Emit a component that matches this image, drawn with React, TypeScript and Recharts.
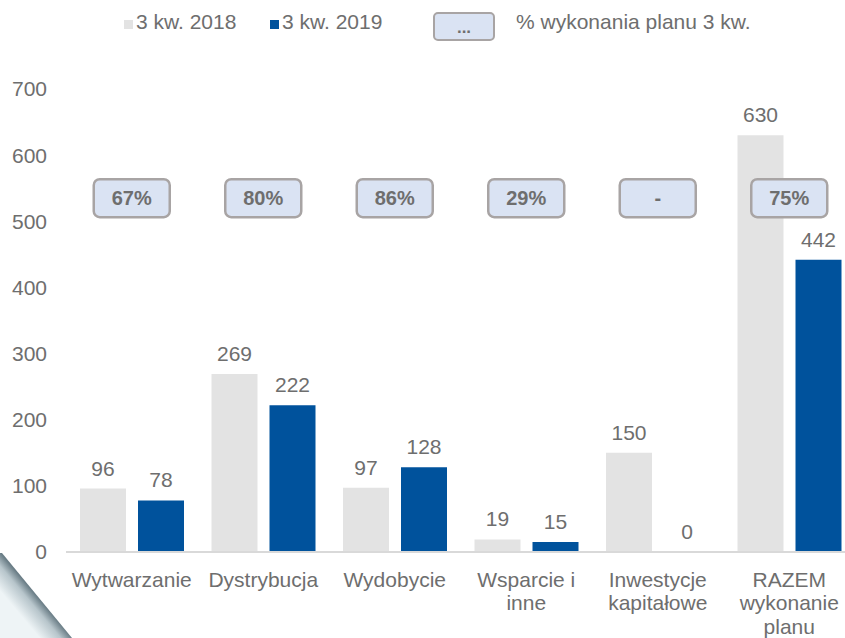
import React from "react";
import { BarChart, Bar, XAxis, YAxis, LabelList, ReferenceDot } from "recharts";

const CATEGORIES = [
  "Wytwarzanie",
  "Dystrybucja",
  "Wydobycie",
  "Wsparcie i\ninne",
  "Inwestycje\nkapitałowe",
  "RAZEM\nwykonanie\nplanu",
];
const Q3_2018 = [96, 269, 97, 19, 150, 630];
const Q3_2019 = [78, 222, 128, 15, 0, 442];
const PLAN_PCT = ["67%", "80%", "86%", "29%", "-", "75%"];
const PCT_LEVEL = 535;
const Y_TICKS = [0, 100, 200, 300, 400, 500, 600, 700];

const data = CATEGORIES.map((name, i) => ({ name, y2018: Q3_2018[i], y2019: Q3_2019[i] }));

const FONT = "'Liberation Sans', Arial, sans-serif";
const TEXT = "#6e6e6e";
const GRAY = "#e3e3e3";
const BLUE = "#00529c";
const BOX_FILL = "#dae3f3";
const BOX_STROKE = "#a8a4a4";

// zero-valued bars still need a rectangle so their label is drawn
const tinyForZero = (v: number) => (v === 0 ? 0.01 : 0);

function CategoryTick({ x, y, payload }: any) {
  const lines = String(payload.value).split("\n");
  return (
    <text x={x} y={y} textAnchor="middle" fill={TEXT} fontSize={21} fontFamily={FONT}>
      {lines.map((l, i) => (
        <tspan key={i} x={x} dy={i === 0 ? "0.71em" : 23.5}>
          {l}
        </tspan>
      ))}
    </text>
  );
}

function PctBox({ cx, cy, text }: any) {
  return (
    <g>
      <rect x={cx - 38} y={cy - 19} width={76} height={38} rx={6} fill={BOX_FILL} stroke={BOX_STROKE} strokeWidth={2.5} />
      <text x={cx} y={cy} dy="0.36em" textAnchor="middle" fill={TEXT} fontSize={20} fontWeight="bold" fontFamily={FONT}>
        {text}
      </text>
    </g>
  );
}

function LegendBar() {
  const item = { position: "absolute" as const, top: 9, fontSize: 21, color: TEXT, lineHeight: "26px", whiteSpace: "nowrap" as const };
  const sq = (c: string) => ({ display: "inline-block", width: 9, height: 9, background: c, marginRight: 3 });
  return (
    <>
      <div style={{ ...item, left: 124 }}>
        <span style={sq(GRAY)} />3 kw. 2018
      </div>
      <div style={{ ...item, left: 270 }}>
        <span style={sq(BLUE)} />3 kw. 2019
      </div>
      <div
        style={{
          position: "absolute", left: 433, top: 12, width: 58, height: 25, border: `2.5px solid ${BOX_STROKE}`,
          borderRadius: 5, background: BOX_FILL, color: TEXT, fontWeight: "bold", fontSize: 17,
          textAlign: "center", lineHeight: "28px",
        }}
      >
        ...
      </div>
      <div style={{ ...item, left: 516 }}>% wykonania planu 3 kw.</div>
    </>
  );
}

// page-curl decoration in the lower left corner
function Curl() {
  return (
    <svg width={80} height={110} style={{ position: "absolute", left: 0, top: 528 }}>
      <defs>
        <linearGradient id="curl" gradientUnits="userSpaceOnUse" x1={36} y1={67} x2={17} y2={83}>
          <stop offset="0%" stopColor="#6a7d86" />
          <stop offset="35%" stopColor="#b7c5cb" />
          <stop offset="100%" stopColor="#eef4f6" />
        </linearGradient>
      </defs>
      <polygon points="0,25 2,25 72,110 0,110" fill="url(#curl)" />
    </svg>
  );
}

export default function App() {
  return (
    <div style={{ position: "absolute", left: 0, top: 0, width: 845, height: 638, overflow: "hidden", background: "#fff", fontFamily: FONT }}>
      <LegendBar />
      <Curl />
      <BarChart
        width={855}
        height={638}
        data={data}
        margin={{ top: 89, right: 0, left: 0, bottom: 0 }}
        barCategoryGap={14}
        barGap={12}
      >
        <XAxis
          dataKey="name"
          tick={<CategoryTick />}
          tickLine={false}
          axisLine={{ stroke: "#d9d9d9", strokeWidth: 2 }}
          height={86}
          tickMargin={14}
          interval={0}
        />
        <YAxis
          domain={[0, 700]}
          ticks={Y_TICKS}
          width={66}
          axisLine={false}
          tickLine={false}
          tickMargin={13}
          tick={{ fill: TEXT, fontSize: 21, fontFamily: FONT }}
        />
        <Bar dataKey="y2018" fill={GRAY} minPointSize={tinyForZero} isAnimationActive={false}>
          <LabelList dataKey="y2018" position="top" offset={13} fill={TEXT} fontSize={21} fontFamily={FONT} />
        </Bar>
        <Bar dataKey="y2019" fill={BLUE} minPointSize={tinyForZero} isAnimationActive={false}>
          <LabelList dataKey="y2019" position="top" offset={13} fill={TEXT} fontSize={21} fontFamily={FONT} />
        </Bar>
        {CATEGORIES.map((c, i) => (
          <ReferenceDot
            key={c}
            x={c}
            y={PCT_LEVEL}
            ifOverflow="visible"
            shape={(p: any) => <PctBox {...p} text={PLAN_PCT[i]} />}
          />
        ))}
      </BarChart>
    </div>
  );
}
